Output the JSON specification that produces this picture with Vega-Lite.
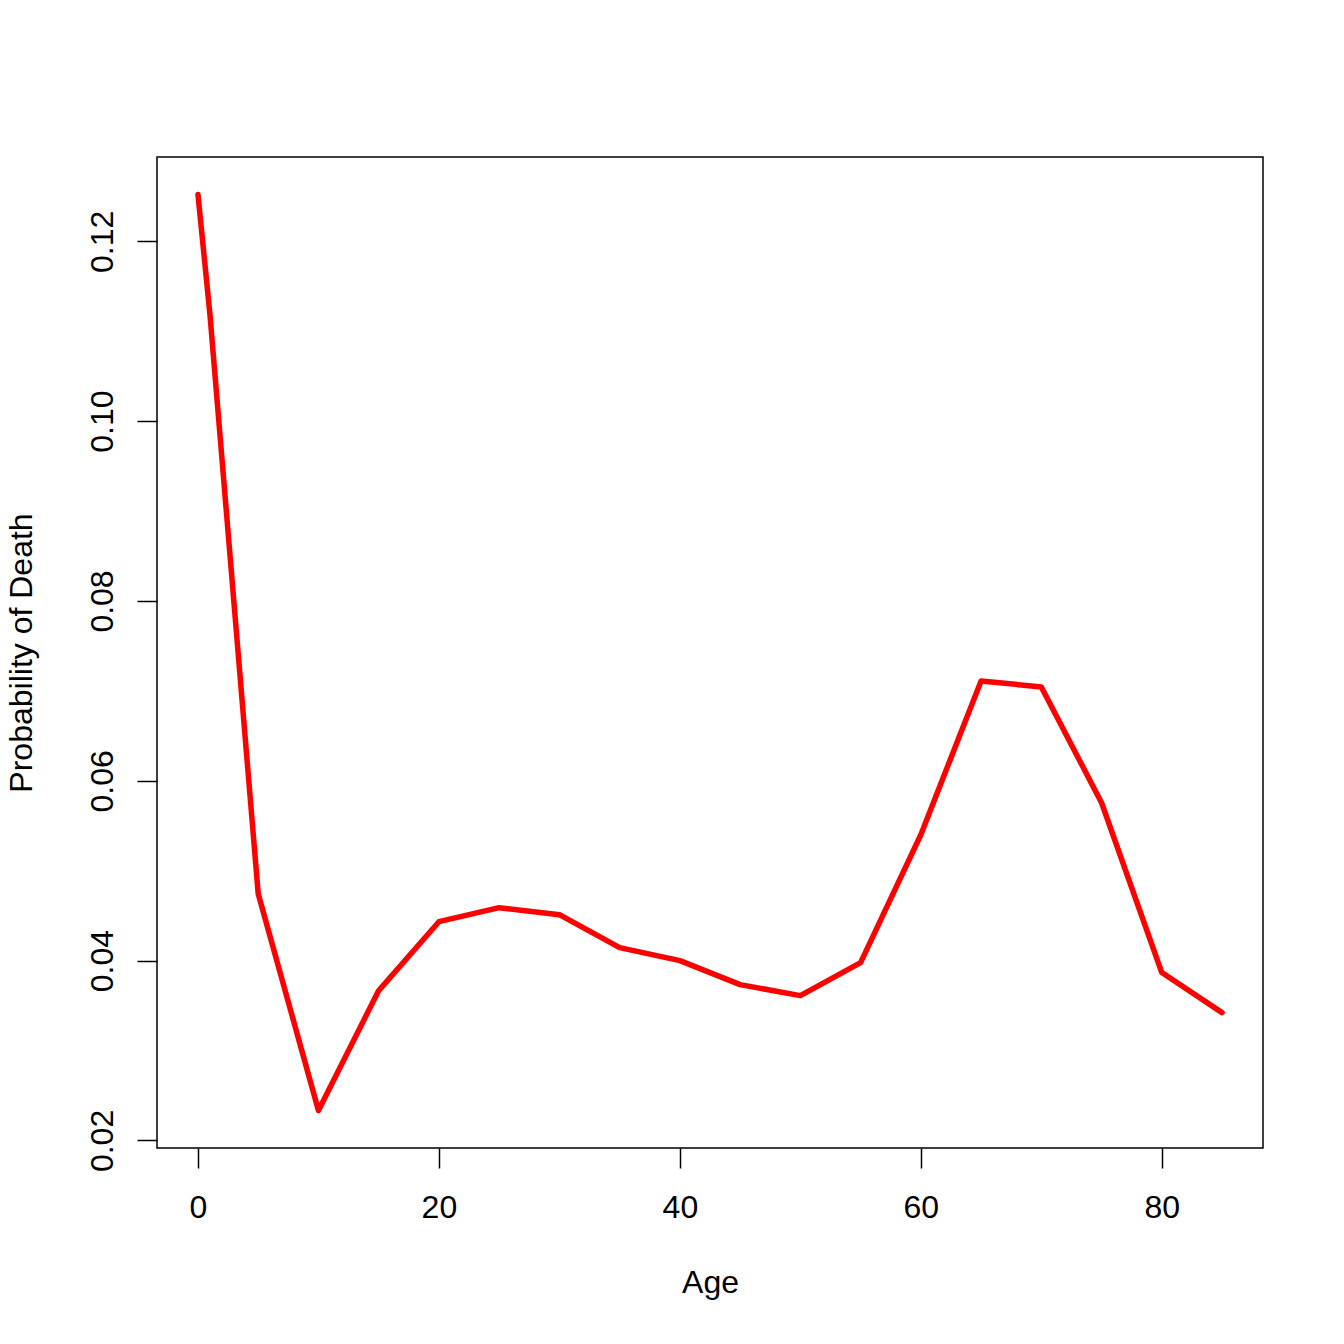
{
  "$schema": "https://vega.github.io/schema/vega-lite/v6.json",
  "width": 1106,
  "height": 991,
  "autosize": {"type": "none"},
  "padding": {"left": 157, "top": 157, "right": 81, "bottom": 196},
  "background": "white",
  "config": {
    "font": "Liberation Sans",
    "view": {"stroke": "black", "strokeWidth": 1.5},
    "axis": {
      "grid": false,
      "domain": false,
      "tickColor": "black",
      "tickWidth": 1.5,
      "tickSize": 20,
      "labelFont": "Liberation Sans",
      "labelFontSize": 32,
      "labelColor": "black",
      "titleFont": "Liberation Sans",
      "titleFontSize": 32,
      "titleFontWeight": "normal",
      "titleColor": "black"
    }
  },
  "data": {
    "values": [
      {"age": 0, "p": 0.12522},
      {"age": 1, "p": 0.11178},
      {"age": 5, "p": 0.04744},
      {"age": 10, "p": 0.02333},
      {"age": 15, "p": 0.03667},
      {"age": 20, "p": 0.04433},
      {"age": 25, "p": 0.04589},
      {"age": 30, "p": 0.04511},
      {"age": 35, "p": 0.04144},
      {"age": 40, "p": 0.04},
      {"age": 45, "p": 0.03733},
      {"age": 50, "p": 0.03611},
      {"age": 55, "p": 0.03978},
      {"age": 60, "p": 0.054},
      {"age": 65, "p": 0.07111},
      {"age": 70, "p": 0.07044},
      {"age": 75, "p": 0.05756},
      {"age": 80, "p": 0.03867},
      {"age": 85, "p": 0.03422}
    ]
  },
  "mark": {"type": "line", "color": "#ff0000", "strokeWidth": 5.5, "strokeCap": "round", "strokeJoin": "round"},
  "encoding": {
    "x": {
      "field": "age",
      "type": "quantitative",
      "title": "Age",
      "scale": {"domain": [-3.4, 88.4], "nice": false, "zero": false},
      "axis": {"values": [0, 20, 40, 60, 80], "labelPadding": 24, "titlePadding": 44}
    },
    "y": {
      "field": "p",
      "type": "quantitative",
      "title": "Probability of Death",
      "scale": {"domain": [0.01916, 0.12938], "nice": false, "zero": false},
      "axis": {
        "values": [0.02, 0.04, 0.06, 0.08, 0.1, 0.12],
        "format": ".2f",
        "labelAngle": -90,
        "labelAlign": "center",
        "labelBaseline": "alphabetic",
        "labelPadding": 25,
        "titlePadding": 48
      }
    }
  }
}
